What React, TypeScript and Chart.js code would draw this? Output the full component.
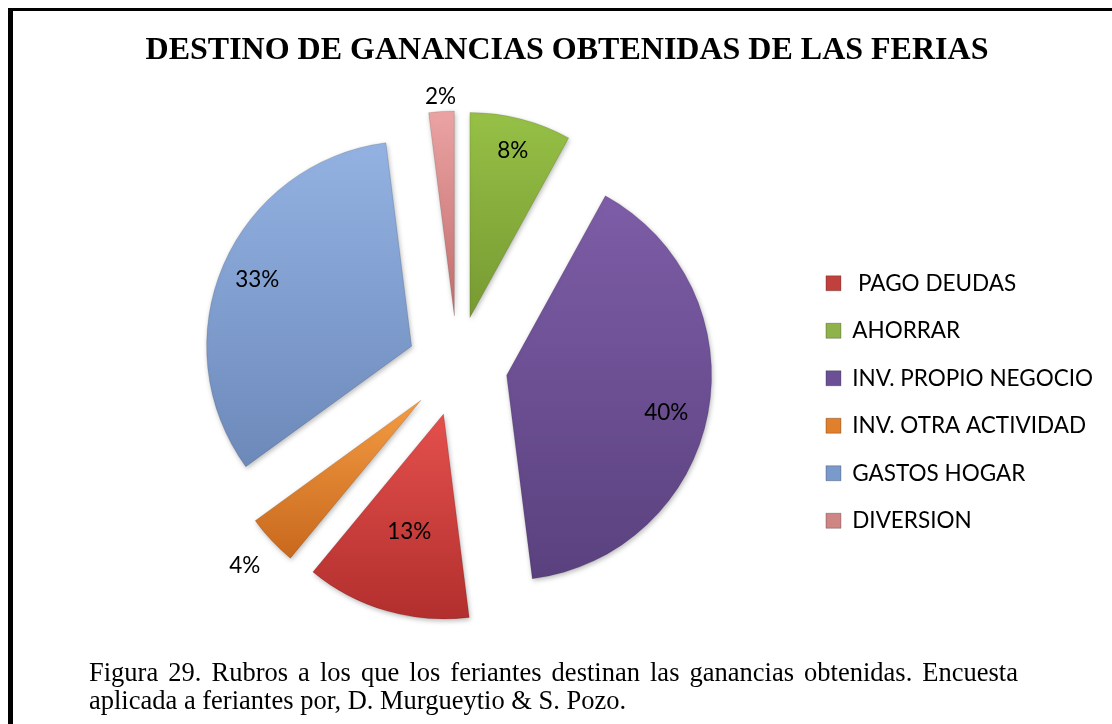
import React, { useEffect, useRef } from 'react';
import { Chart, registerables } from 'chart.js';

Chart.register(...registerables);

// ---- data (slices listed clockwise from 12 o'clock) ----
const CATEGORIES = ['AHORRAR', 'INV. PROPIO NEGOCIO', ' PAGO DEUDAS', 'INV. OTRA ACTIVIDAD', 'GASTOS HOGAR', 'DIVERSION'];
const PERCENTAGES = [8, 40, 13, 4, 33, 2];
const LEGEND_ORDER = [' PAGO DEUDAS', 'AHORRAR', 'INV. PROPIO NEGOCIO', 'INV. OTRA ACTIVIDAD', 'GASTOS HOGAR', 'DIVERSION'];

const TITLE = 'DESTINO DE GANANCIAS OBTENIDAS DE LAS FERIAS';
const CAPTION_LINE1 = 'Figura 29. Rubros a los que los feriantes destinan las ganancias obtenidas. Encuesta';
const CAPTION_LINE2 = 'aplicada a feriantes por, D. Murgueytio & S. Pozo.';

// ---- styles ----
const TOP_COLORS = ['#96c046', '#7d5da7', '#e4504d', '#f49c44', '#93b2e2', '#eba3a3'];
const BOTTOM_COLORS = ['#779a32', '#5a417e', '#b22f2d', '#c8681c', '#6c89ba', '#c26c6c'];
const LEGEND_COLORS = ['#8fb24a', '#6c5095', '#c0403d', '#e07f2c', '#7b9acc', '#d08585'];
const LABEL_RADIUS = [0.84, 0.8, 0.6, 1.18, 0.82, 1.07];
const LABEL_TURN = [0, 0.04, 0, 0, 0, 0];
const RADIUS = 205;
const EXPLODE = 50;
const FONT = 'Lato';

function sliceAngles(i: number) {
  const total = PERCENTAGES.reduce((a, b) => a + b, 0);
  let before = 0;
  for (let k = 0; k < i; k++) before += PERCENTAGES[k];
  const a0 = -Math.PI / 2 + (2 * Math.PI * before) / total;
  const a1 = a0 + (2 * Math.PI * PERCENTAGES[i]) / total;
  return [a0, a1];
}

function sliceFill(c: any) {
  const i = c.dataIndex;
  const chart = c.chart;
  const area = chart.chartArea;
  if (!area || i === undefined) return LEGEND_COLORS[i ?? 0];
  const [a0, a1] = sliceAngles(i);
  const mid = (a0 + a1) / 2;
  const cx = (area.left + area.right) / 2 + Math.cos(mid) * EXPLODE;
  const cy = (area.top + area.bottom) / 2 + Math.sin(mid) * EXPLODE;
  const ys = [cy, cy + RADIUS * Math.sin(a0), cy + RADIUS * Math.sin(a1)];
  const within = (a: number) => a > a0 && a < a1;
  if (within(Math.PI / 2)) ys.push(cy + RADIUS);
  if (within(-Math.PI / 2) || within((3 * Math.PI) / 2)) ys.push(cy - RADIUS);
  const g = chart.ctx.createLinearGradient(0, Math.min(...ys), 0, Math.max(...ys));
  g.addColorStop(0, TOP_COLORS[i]);
  g.addColorStop(1, BOTTOM_COLORS[i]);
  return g;
}

const explodePlugin = {
  id: 'explodeSlices',
  afterDatasetUpdate(chart: any, args: any) {
    args.meta.data.forEach((arc: any) => {
      const mid = (arc.startAngle + arc.endAngle) / 2;
      arc.x += Math.cos(mid) * EXPLODE;
      arc.y += Math.sin(mid) * EXPLODE;
    });
  },
  beforeDatasetDraw(chart: any) {
    const ctx = chart.ctx;
    ctx.save();
    ctx.shadowColor = 'rgba(0,0,0,0.28)';
    ctx.shadowBlur = 5;
    ctx.shadowOffsetX = 1;
    ctx.shadowOffsetY = 2;
  },
  afterDatasetDraw(chart: any) {
    chart.ctx.restore();
  },
  afterDatasetsDraw(chart: any) {
    const ctx = chart.ctx;
    const meta = chart.getDatasetMeta(0);
    ctx.save();
    ctx.font = `22.5px ${FONT}`;
    ctx.fillStyle = '#000';
    ctx.textAlign = 'center';
    ctx.textBaseline = 'middle';
    meta.data.forEach((arc: any, i: number) => {
      const mid = (arc.startAngle + arc.endAngle) / 2 + LABEL_TURN[i];
      const r = arc.outerRadius * LABEL_RADIUS[i];
      ctx.fillText(`${PERCENTAGES[i]}%`, arc.x + Math.cos(mid) * r, arc.y + Math.sin(mid) * r);
    });
    ctx.restore();
  },
};

function PieChart() {
  const ref = useRef<HTMLCanvasElement>(null);
  useEffect(() => {
    if (!ref.current) return;
    const baseGen = (Chart as any).overrides.pie.plugins.legend.labels.generateLabels;
    const chart = new Chart(ref.current, {
      type: 'pie',
      data: {
        labels: CATEGORIES,
        datasets: [
          {
            data: PERCENTAGES,
            backgroundColor: sliceFill as any,
            borderColor: 'rgba(0,0,0,0.12)',
            borderWidth: 1,
          },
        ],
      },
      options: {
        responsive: false,
        animation: false,
        events: [],
        radius: RADIUS,
        layout: { padding: { top: 175, bottom: 83, left: 114, right: 9 } },
        plugins: {
          title: { display: false },
          tooltip: { enabled: false },
          legend: {
            display: true,
            position: 'right',
            align: 'end',
            labels: {
              color: '#000',
              font: { family: FONT, size: 22.5 },
              boxWidth: 15,
              boxHeight: 15,
              padding: 25,
              generateLabels: (chart: any) =>
                baseGen(chart).map((l: any, i: number) => ({
                  ...l,
                  fillStyle: LEGEND_COLORS[i],
                  strokeStyle: 'rgba(0,0,0,0.25)',
                  lineWidth: 1,
                })),
              sort: (a: any, b: any) => LEGEND_ORDER.indexOf(a.text) - LEGEND_ORDER.indexOf(b.text),
            },
          },
        },
      } as any,
      plugins: [explodePlugin],
    });
    return () => chart.destroy();
  }, []);
  return (
    <canvas
      ref={ref}
      width={1112}
      height={640}
      style={{ position: 'fixed', left: 0, top: 0, width: 1112, height: 640, display: 'block' }}
    />
  );
}

export default function App() {
  return (
    <div>
      <div
        style={{
          position: 'fixed',
          left: 8,
          top: 8,
          width: 1200,
          height: 800,
          borderLeft: '5px solid #000',
          borderTop: '3px solid #000',
          boxSizing: 'border-box',
        }}
      />
      <PieChart />
      <div
        style={{
          position: 'fixed',
          left: 13,
          top: 30,
          width: 1108,
          textAlign: 'center',
          fontFamily: '"Liberation Serif", "Times New Roman", serif',
          fontWeight: 'bold',
          fontSize: 32,
          lineHeight: '36px',
          whiteSpace: 'nowrap',
        }}
      >
        {TITLE}
      </div>
      <div
        style={{
          position: 'fixed',
          left: 89,
          top: 658,
          width: 929,
          fontFamily: '"Liberation Serif", "Times New Roman", serif',
          fontSize: 26.5,
          lineHeight: '28px',
          color: '#000',
        }}
      >
        <div style={{ textAlign: 'justify', textAlignLast: 'justify', whiteSpace: 'nowrap' } as any}>{CAPTION_LINE1}</div>
        <div style={{ textAlign: 'left', whiteSpace: 'nowrap' }}>{CAPTION_LINE2}</div>
      </div>
    </div>
  );
}
